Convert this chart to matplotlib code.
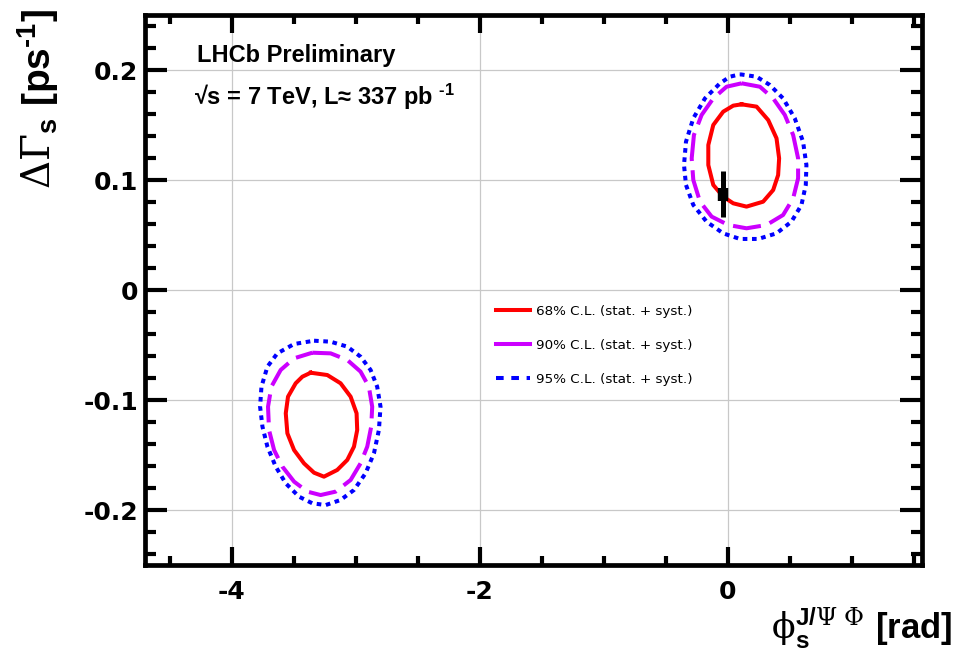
import matplotlib
matplotlib.use("Agg")
import matplotlib.pyplot as plt
from matplotlib.lines import Line2D
from matplotlib.ticker import FixedLocator, FixedFormatter, MultipleLocator

plt.rcParams["mathtext.fontset"] = "custom"
plt.rcParams["mathtext.rm"] = "Liberation Sans:bold"
plt.rcParams["mathtext.it"] = "Liberation Sans:bold"
plt.rcParams["mathtext.bf"] = "Liberation Sans:bold"
plt.rcParams["mathtext.sf"] = "DejaVu Serif"
plt.rcParams["axes.unicode_minus"] = False

# ---------------------------------------------------------------------------
# Confidence-level contours in the (phi_s, Delta Gamma_s) plane
# ---------------------------------------------------------------------------
# Solution near phi_s ~ 0
c68_a_phi = [0.110, 0.231, 0.325, 0.392, 0.413, 0.405, 0.365, 0.284, 0.150, 0.043,
             -0.038, -0.118, -0.158, -0.158, -0.118, -0.038, 0.043]
c68_a_dg = [0.1688, 0.1667, 0.1545, 0.1379, 0.1197, 0.1045, 0.0909, 0.0803, 0.0758, 0.0788,
            0.0848, 0.0955, 0.1136, 0.1318, 0.1500, 0.1621, 0.1676]

c90_a_phi = [0.110, 0.258, 0.365, 0.459, 0.526, 0.566, 0.566, 0.526, 0.445, 0.311,
             0.150, 0.003, -0.131, -0.225, -0.279, -0.292, -0.274, -0.212, -0.118, -0.011]
c90_a_dg = [0.1879, 0.1848, 0.1742, 0.1591, 0.1409, 0.1197, 0.1015, 0.0833, 0.0682, 0.0591,
            0.0561, 0.0591, 0.0667, 0.0803, 0.1000, 0.1197, 0.1409, 0.1591, 0.1742, 0.1848]

c95_a_phi = [0.097, 0.231, 0.338, 0.445, 0.539, 0.606, 0.633, 0.628, 0.593, 0.512, 0.392,
             0.244, 0.097, -0.038, -0.172, -0.279, -0.338, -0.354, -0.338, -0.279, -0.185,
             -0.064, 0.016]
c95_a_dg = [0.1961, 0.1939, 0.1864, 0.1742, 0.1561, 0.1348, 0.1136, 0.0955, 0.0773, 0.0621,
            0.0515, 0.0464, 0.0464, 0.0515, 0.0621, 0.0773, 0.0955, 0.1136, 0.1348, 0.1561,
            0.1742, 0.1879, 0.1939]

# Mirror solution near phi_s ~ pi
c68_b_phi = [-3.364, -3.230, -3.123, -3.042, -2.994, -2.989, -3.015, -3.069, -3.150, -3.257,
             -3.337, -3.418, -3.498, -3.552, -3.565, -3.547, -3.485, -3.431]
c68_b_dg = [-0.0752, -0.0773, -0.0848, -0.0970, -0.1121, -0.1273, -0.1424, -0.1545, -0.1636,
            -0.1697, -0.1661, -0.1576, -0.1455, -0.1303, -0.1121, -0.0970, -0.0848, -0.0788]

c90_b_phi = [-3.351, -3.203, -3.069, -2.962, -2.895, -2.868, -2.876, -2.908, -2.962, -3.042,
             -3.163, -3.284, -3.391, -3.498, -3.592, -3.659, -3.700, -3.708, -3.681, -3.606,
             -3.498]
c90_b_dg = [-0.0570, -0.0576, -0.0636, -0.0742, -0.0879, -0.1061, -0.1242, -0.1424, -0.1576,
            -0.1727, -0.1833, -0.1864, -0.1833, -0.1742, -0.1606, -0.1455, -0.1273, -0.1061,
            -0.0879, -0.0727, -0.0621]

c95_b_phi = [-3.337, -3.203, -3.069, -2.962, -2.881, -2.828, -2.801, -2.814, -2.854, -2.922,
             -3.015, -3.123, -3.243, -3.351, -3.458, -3.565, -3.646, -3.713, -3.753, -3.772,
             -3.761, -3.713, -3.633, -3.498]
c95_b_dg = [-0.0461, -0.0470, -0.0515, -0.0606, -0.0727, -0.0879, -0.1061, -0.1273, -0.1485,
            -0.1667, -0.1818, -0.1909, -0.1955, -0.1939, -0.1879, -0.1758, -0.1606, -0.1424,
            -0.1242, -0.1061, -0.0879, -0.0697, -0.0576, -0.0491]

# Standard Model expectation
sm_phi = -0.036
sm_dg = 0.087
sm_dg_err = 0.021
sm_dg_core = 0.006

legend_labels = ["68% C.L. (stat. + syst.)",
                 "90% C.L. (stat. + syst.)",
                 "95% C.L. (stat. + syst.)"]

xticks = [-4, -2, 0]
xtick_labels = ["-4", "-2", "0"]
yticks = [-0.2, -0.1, 0.0, 0.1, 0.2]
ytick_labels = ["-0.2", "-0.1", "0", "0.1", "0.2"]

# ---------------------------------------------------------------------------
RED = "#ff0000"
VIOLET = "#cc00ff"
BLUE = "#0000ff"
LW = 2.9

fig = plt.figure(figsize=(9.59, 6.58), dpi=100)
ax = fig.add_axes([145 / 959, 1 - 565 / 658, 777 / 959, 550 / 658])
ax.set_xlim(-4.70, 1.565)
ax.set_ylim(-0.25, 0.25)


def closed(xs, ys):
    return list(xs) + [xs[0]], list(ys) + [ys[0]]


for phis, dgs in [(c95_a_phi, c95_a_dg), (c95_b_phi, c95_b_dg)]:
    x, y = closed(phis, dgs)
    ax.plot(x, y, color=BLUE, lw=LW, dashes=(1.15, 1.15), zorder=3)
for phis, dgs in [(c90_a_phi, c90_a_dg), (c90_b_phi, c90_b_dg)]:
    x, y = closed(phis, dgs)
    ax.plot(x, y, color=VIOLET, lw=LW, dashes=(7.0, 2.3), zorder=3)
for phis, dgs in [(c68_a_phi, c68_a_dg), (c68_b_phi, c68_b_dg)]:
    x, y = closed(phis, dgs)
    ax.plot(x, y, color=RED, lw=LW, zorder=3)

# Standard Model point with its uncertainty
ax.errorbar([sm_phi], [sm_dg], yerr=[sm_dg_err], fmt="none", ecolor="black",
            elinewidth=3.6, capsize=0, zorder=5)
ax.plot([sm_phi, sm_phi], [sm_dg - sm_dg_core, sm_dg + sm_dg_core], color="black",
        lw=7.5, solid_capstyle="butt", zorder=5)

# Axes, ticks and grid
ax.xaxis.set_major_locator(FixedLocator(xticks))
ax.xaxis.set_major_formatter(FixedFormatter(xtick_labels))
ax.xaxis.set_minor_locator(MultipleLocator(0.5))
ax.yaxis.set_major_locator(FixedLocator(yticks))
ax.yaxis.set_major_formatter(FixedFormatter(ytick_labels))
ax.yaxis.set_minor_locator(MultipleLocator(0.02))
ax.grid(True, which="major", color="#c8c8c8", lw=0.9, zorder=0)
ax.set_axisbelow(True)

for s in ax.spines.values():
    s.set_linewidth(3.4)
ax.tick_params(which="both", direction="in", top=True, right=True, width=3.0,
               color="black")
ax.tick_params(axis="x", which="major", length=13, pad=11)
ax.tick_params(axis="x", which="minor", length=6.5)
ax.tick_params(axis="y", which="major", length=16, pad=5)
ax.tick_params(axis="y", which="minor", length=8)
for lab in ax.get_xticklabels() + ax.get_yticklabels():
    lab.set_fontfamily("DejaVu Sans")
    lab.set_fontweight("bold")
    lab.set_fontsize(18)

# Axis titles
fig.text(952 / 959, 1 - 638 / 658,
         r"$\mathsf{\phi}_{\mathbf{s}}^{\mathbf{J/}\mathsf{\Psi\ \Phi}}\ \mathbf{[rad]}$",
         ha="right", va="baseline", fontsize=25)
fig.text(38 / 959, 1 - 9 / 658,
         r"$\mathsf{\Delta\Gamma}_{\mathbf{s}}\ \mathbf{[ps}^{\text{-1}}\mathbf{]}$",
         ha="center", va="top", rotation=90, fontsize=28)

# Annotations
ax.text((197 - 145) / 777, (565 - 62) / 550, "LHCb Preliminary",
        transform=ax.transAxes, ha="left", va="baseline", fontsize=17,
        fontweight="bold", family=["Liberation Sans", "DejaVu Sans"])
ax.text((194 - 145) / 777, (565 - 105) / 550,
        "\u221as = 7 TeV, L\u2248 337 pb $^{\\text{-1}}$",
        transform=ax.transAxes, ha="left", va="baseline", fontsize=17,
        fontweight="bold", family=["Liberation Sans", "DejaVu Sans"])

# Legend
handles = [Line2D([], [], color=RED, lw=LW),
           Line2D([], [], color=VIOLET, lw=LW),
           Line2D([], [], color=BLUE, lw=LW, dashes=(1.9, 1.9))]
ax.legend(handles, legend_labels, loc="upper left",
          bbox_to_anchor=((496 - 145) / 777, (565 - 305) / 550),
          frameon=False, borderpad=0, borderaxespad=0, handlelength=2.5,
          handletextpad=0.5, labelspacing=1.55,
          prop={"family": "DejaVu Sans", "size": 9.7})

fig.savefig("out.png", dpi=100, facecolor="white")
